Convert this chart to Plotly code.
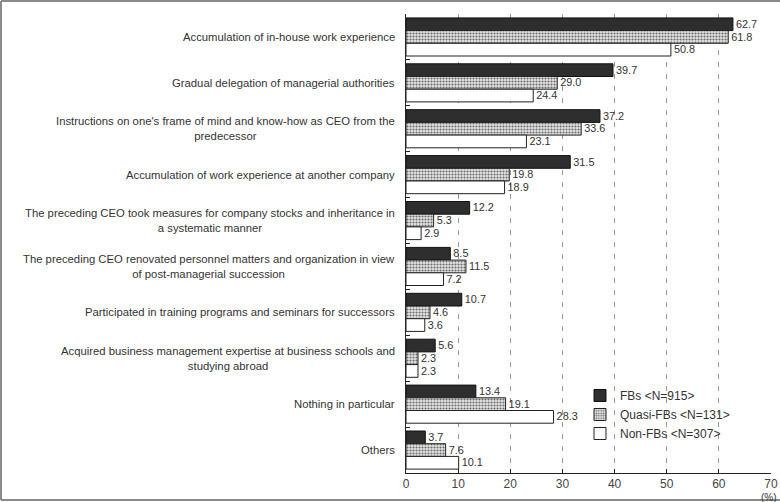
import plotly.graph_objects as go

# Survey categories (top to bottom) and shares in percent
categories = [
    "Accumulation of in-house work experience",
    "Gradual delegation of managerial authorities",
    "Instructions on one's frame of mind and know-how as CEO from the<br>predecessor",
    "Accumulation of work experience at another company",
    "The preceding CEO took measures for company stocks and inheritance in<br>a systematic manner",
    "The preceding CEO renovated personnel matters and organization in view<br>of post-managerial succession",
    "Participated in training programs and seminars for successors",
    "Acquired business management expertise at business schools and<br>studying abroad",
    "Nothing in particular",
    "Others",
]
fbs = [62.7, 39.7, 37.2, 31.5, 12.2, 8.5, 10.7, 5.6, 13.4, 3.7]
quasi_fbs = [61.8, 29.0, 33.6, 19.8, 5.3, 11.5, 4.6, 2.3, 19.1, 7.6]
non_fbs = [50.8, 24.4, 23.1, 18.9, 2.9, 7.2, 3.6, 2.3, 28.3, 10.1]

series_names = ["FBs <N=915>", "Quasi-FBs <N=131>", "Non-FBs <N=307>"]
x_ticks = [0, 10, 20, 30, 40, 50, 60, 70]

W, H = 780, 502
ML, MR, MT, MB = 406, 9, 14, 29
PW, PH = W - ML - MR, H - MT - MB

FONT = "Liberation Sans, Arial, sans-serif"
TXT = "#333333"

keys = list(range(len(categories)))

fig = go.Figure()

common = dict(
    orientation="h",
    textposition="outside",
    textfont=dict(size=12, color=TXT, family=FONT),
    cliponaxis=False,
)

fig.add_trace(go.Bar(
    name=series_names[0], y=keys, x=fbs,
    text=[f"{v:.1f}" for v in fbs],
    marker=dict(color="#2e2e2e", line=dict(color="#111111", width=1)),
    **common,
))
fig.add_trace(go.Bar(
    name=series_names[1], y=keys, x=quasi_fbs,
    text=[f"{v:.1f}" for v in quasi_fbs],
    marker=dict(
        color="#d8d8d8",
        line=dict(color="#222222", width=1),
        pattern=dict(shape=".", size=3, solidity=0.4,
                     fgcolor="#6a6a6a", bgcolor="#e6e6e6", fillmode="replace"),
    ),
    **common,
))
fig.add_trace(go.Bar(
    name=series_names[2], y=keys, x=non_fbs,
    text=[f"{v:.1f}" for v in non_fbs],
    marker=dict(color="#ffffff", line=dict(color="#222222", width=1)),
    **common,
))

# Category labels, right-aligned to the axis; wrapped lines centred on each other
annotations = []
for k, label in zip(keys, categories):
    annotations.append(dict(
        xref="paper", yref="y", x=0, y=k, xshift=-9,
        xanchor="right", yanchor="middle", align="center",
        text=label, showarrow=False,
        font=dict(size=11.3, color=TXT, family=FONT),
    ))
# Unit label under the last tick
annotations.append(dict(
    xref="paper", yref="paper", x=1, y=0, xanchor="right", yanchor="top",
    xshift=MR - 1, yshift=-17, text="(%)", showarrow=False,
    font=dict(size=10, color=TXT, family=FONT),
))

# Grey frame around the figure (left, top, bottom edges)
def px_x(p):
    return (p - ML) / PW

def px_y(p):
    return (H - MB - p) / PH

frame = dict(color="#8a8a8a", width=2)
shapes = [
    dict(type="line", xref="paper", yref="paper",
         x0=px_x(1), x1=px_x(1), y0=px_y(1), y1=px_y(500), line=frame),
    dict(type="line", xref="paper", yref="paper",
         x0=px_x(1), x1=px_x(W + 5), y0=px_y(1), y1=px_y(1), line=frame),
    dict(type="line", xref="paper", yref="paper",
         x0=px_x(1), x1=px_x(W + 5), y0=px_y(500), y1=px_y(500), line=frame),
]

fig.update_layout(
    width=W, height=H,
    margin=dict(l=ML, r=MR, t=MT, b=MB, pad=0, autoexpand=False),
    paper_bgcolor="white", plot_bgcolor="white",
    barmode="group", bargap=0.17, bargroupgap=0.0,
    font=dict(family=FONT, color=TXT, size=12),
    showlegend=True,
    legend=dict(
        x=(580 - ML) / PW, y=px_y(381), xanchor="left", yanchor="top",
        bgcolor="rgba(0,0,0,0)", borderwidth=0,
        font=dict(size=12, color=TXT, family=FONT),
        traceorder="normal", itemwidth=30, tracegroupgap=0,
    ),
    annotations=annotations,
    shapes=shapes,
)

fig.update_xaxes(
    range=[0, 70], tickvals=x_ticks, ticktext=[str(t) for t in x_ticks],
    ticklabeloverflow="allow", automargin=False,
    showgrid=True, gridcolor="#9a9a9a", gridwidth=1, griddash="5px,7px",
    showline=True, linecolor="#222222", linewidth=1,
    ticks="inside", ticklen=4, tickcolor="#222222",
    tickfont=dict(size=12, color="#444444", family=FONT),
    zeroline=False, fixedrange=True,
)
fig.update_yaxes(
    type="category", autorange="reversed", automargin=False,
    showticklabels=False, showgrid=False,
    showline=True, linecolor="#222222", linewidth=1,
    ticks="inside", ticklen=4, tickcolor="#222222", tickson="boundaries",
    zeroline=False, fixedrange=True,
)

fig.write_html("out.html")
